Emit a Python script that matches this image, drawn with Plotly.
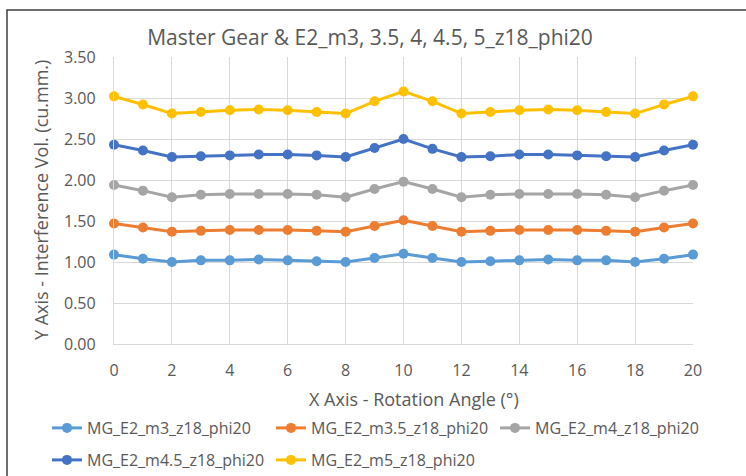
import plotly.graph_objects as go

# Rotation angle (degrees)
angles = list(range(0, 21))

# Interference volume (cu.mm.) for each module size
vol_m3 = [1.09, 1.04, 1.00, 1.02, 1.02, 1.03, 1.02, 1.01, 1.00, 1.05, 1.10,
          1.05, 1.00, 1.01, 1.02, 1.03, 1.02, 1.02, 1.00, 1.04, 1.09]
vol_m35 = [1.47, 1.42, 1.37, 1.38, 1.39, 1.39, 1.39, 1.38, 1.37, 1.44, 1.51,
           1.44, 1.37, 1.38, 1.39, 1.39, 1.39, 1.38, 1.37, 1.42, 1.47]
vol_m4 = [1.94, 1.87, 1.79, 1.82, 1.83, 1.83, 1.83, 1.82, 1.79, 1.89, 1.98,
          1.89, 1.79, 1.82, 1.83, 1.83, 1.83, 1.82, 1.79, 1.87, 1.94]
vol_m45 = [2.43, 2.36, 2.28, 2.29, 2.30, 2.31, 2.31, 2.30, 2.28, 2.39, 2.50,
           2.38, 2.28, 2.29, 2.31, 2.31, 2.30, 2.29, 2.28, 2.36, 2.43]
vol_m5 = [3.02, 2.92, 2.81, 2.83, 2.85, 2.86, 2.85, 2.83, 2.81, 2.96, 3.08,
          2.96, 2.81, 2.83, 2.85, 2.86, 2.85, 2.83, 2.81, 2.92, 3.02]

series_names = ["MG_E2_m3_z18_phi20", "MG_E2_m3.5_z18_phi20", "MG_E2_m4_z18_phi20",
                "MG_E2_m4.5_z18_phi20", "MG_E2_m5_z18_phi20"]
series_values = [vol_m3, vol_m35, vol_m4, vol_m45, vol_m5]
series_colors = ["#5B9BD5", "#ED7D31", "#A5A5A5", "#4472C4", "#FFC000"]
series_legends = ["legend", "legend", "legend", "legend2", "legend2"]

FONT = "Open Sans"
TEXT = "#595959"
GRID = "#D9D9D9"

# plot area in pixels
W, H = 746, 476
L, R, T, B = 114, 53, 57, 132
PW, PH = W - L - R, H - T - B


def px_x(px):
    return (px - L) / PW


def px_y(py):
    return (H - B - py) / PH


fig = go.Figure()
for name, vals, color, leg in zip(series_names, series_values, series_colors, series_legends):
    fig.add_trace(go.Scatter(
        x=angles, y=vals, name=name, mode="lines+markers",
        line=dict(color=color, width=3),
        marker=dict(color=color, size=10),
        cliponaxis=False, legend=leg,
    ))

legend_common = dict(
    orientation="h", xanchor="left", yanchor="middle",
    entrywidth=179, entrywidthmode="pixels",
    font=dict(family=FONT, size=16, color=TEXT),
    bgcolor="rgba(0,0,0,0)", borderwidth=0,
)

fig.update_layout(
    width=W, height=H, autosize=False,
    margin=dict(l=L, r=R, t=T, b=B, autoexpand=False),
    paper_bgcolor="white", plot_bgcolor="white",
    font=dict(family=FONT, color=TEXT),
    title=dict(
        text="Master Gear & E2_m3, 3.5, 4, 4.5, 5_z18_phi20",
        font=dict(family=FONT, size=21, color=TEXT),
        xref="container", yref="container",
        x=370 / W, y=1 - 38 / H, xanchor="center", yanchor="middle",
    ),
    xaxis=dict(
        range=[0, 20], dtick=2, tick0=0,
        showgrid=True, gridcolor=GRID, gridwidth=1.3,
        showline=True, linecolor=GRID, linewidth=1.3,
        zeroline=False, ticks="",
        tickfont=dict(family=FONT, size=16, color=TEXT),
        ticklabelstandoff=12,
    ),
    yaxis=dict(
        range=[0, 3.5], dtick=0.5, tick0=0, tickformat=".2f",
        showgrid=True, gridcolor=GRID, gridwidth=1.3,
        showline=True, linecolor=GRID, linewidth=1.3,
        zeroline=False, ticks="",
        tickfont=dict(family=FONT, size=16, color=TEXT),
        ticklabelstandoff=14,
    ),
    legend=dict(x=px_x(47), y=px_y(428), **legend_common),
    legend2=dict(x=px_x(47), y=px_y(460), **legend_common),
    showlegend=True,
)

# axis titles
fig.add_annotation(
    text="X Axis - Rotation Angle (°)", xref="paper", yref="paper",
    x=px_x(414), y=px_y(399), xanchor="center", yanchor="middle",
    showarrow=False, font=dict(family=FONT, size=18, color=TEXT),
)
fig.add_annotation(
    text="Y Axis - Interference Vol. (cu.mm.)", xref="paper", yref="paper",
    x=px_x(41), y=px_y(200), xanchor="center", yanchor="middle",
    textangle=-90, showarrow=False, font=dict(family=FONT, size=18, color=TEXT),
)

# chart-area frame
fig.add_shape(
    type="rect", xref="paper", yref="paper",
    x0=px_x(7), x1=px_x(W + 60), y0=px_y(H + 60), y1=px_y(10),
    line=dict(color="#3F3F3F", width=1.5), fillcolor="rgba(0,0,0,0)", layer="above",
)

fig.write_html("out.html")
